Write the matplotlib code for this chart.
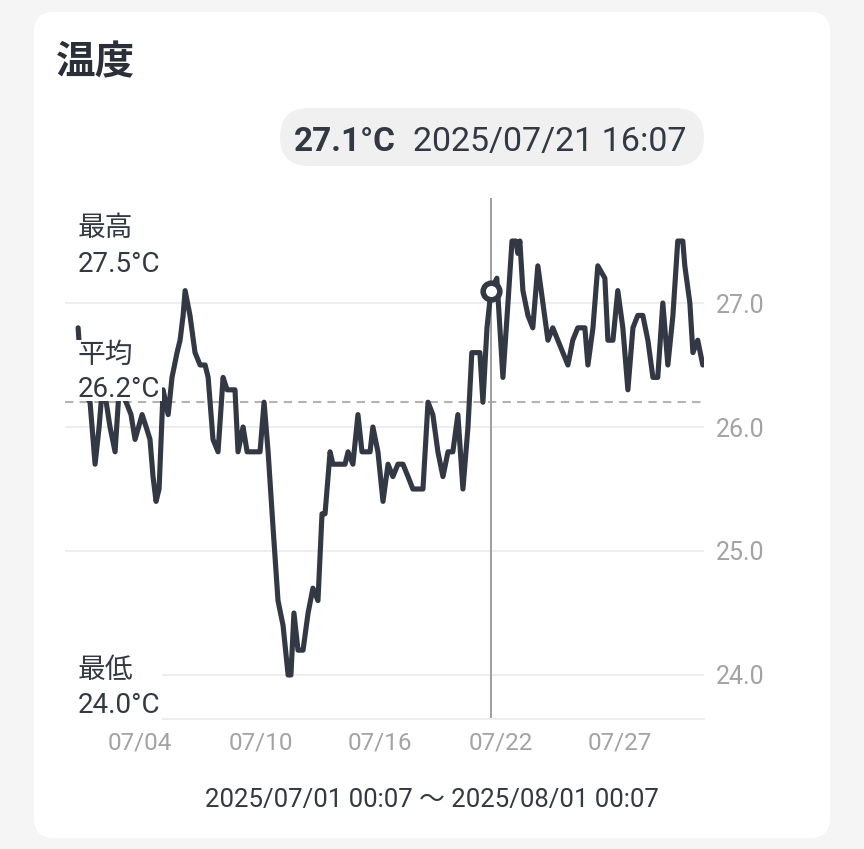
import matplotlib
matplotlib.use("Agg")
import matplotlib.pyplot as plt
from matplotlib.patches import FancyBboxPatch, Rectangle

plt.rcParams["font.family"] = ["Roboto", "Noto Sans CJK JP"]

# ── data (days since 2025/07/01 00:07, °C) ──────────────────
days = [
    0.00, 0.20, 0.59, 0.84, 1.04, 1.19, 1.39, 1.58, 1.83, 2.03,
    2.38, 2.62, 2.82, 3.17, 3.37, 3.56, 3.71, 3.86, 4.01, 4.21,
    4.46, 4.65, 4.90, 5.05, 5.20, 5.30, 5.54, 5.79, 6.04, 6.29,
    6.44, 6.68, 6.93, 7.18, 7.38, 7.77, 7.92, 8.17, 8.37, 9.01,
    9.21, 9.41, 9.65, 9.90, 10.15, 10.40, 10.54, 10.69, 10.89, 11.14,
    11.39, 11.63, 11.88, 12.08, 12.23, 12.48, 12.62, 13.22, 13.37, 13.61,
    13.86, 14.06, 14.46, 14.60, 14.85, 15.10, 15.35, 15.59, 15.84, 16.09,
    16.34, 16.58, 17.08, 17.33, 17.57, 17.82, 18.07, 18.32, 18.56, 18.81,
    19.06, 19.31, 19.50, 19.90, 20.05, 20.25, 20.45, 20.74, 21.04, 21.29,
    21.49, 21.68, 21.78, 21.88, 22.03, 22.28, 22.52, 22.77, 23.02, 23.27,
    23.51, 23.76, 24.01, 24.26, 24.50, 24.75, 25.10, 25.25, 25.50, 25.74,
    26.09, 26.24, 26.49, 26.73, 26.98, 27.23, 27.48, 27.72, 27.97, 28.22,
    28.47, 28.71, 28.96, 29.21, 29.46, 29.70, 29.95, 30.05, 30.30, 30.45,
    30.69, 30.94,
]
temps = [
    26.8, 26.3, 26.2, 25.7, 26.0, 26.3, 26.2, 26.0, 25.8, 26.3,
    26.2, 26.1, 25.9, 26.1, 26.0, 25.9, 25.6, 25.4, 25.5, 26.3,
    26.1, 26.4, 26.6, 26.7, 26.9, 27.1, 26.9, 26.6, 26.5, 26.5,
    26.4, 25.9, 25.8, 26.4, 26.3, 26.3, 25.8, 26.0, 25.8, 25.8,
    26.2, 25.8, 25.2, 24.6, 24.4, 24.0, 24.0, 24.5, 24.2, 24.2,
    24.5, 24.7, 24.6, 25.3, 25.3, 25.8, 25.7, 25.7, 25.8, 25.7,
    26.1, 25.8, 25.8, 26.0, 25.8, 25.4, 25.7, 25.6, 25.7, 25.7,
    25.6, 25.5, 25.5, 26.2, 26.1, 25.8, 25.6, 25.8, 25.8, 26.1,
    25.5, 26.0, 26.6, 26.6, 26.2, 26.8, 27.1, 27.2, 26.4, 27.0,
    27.5, 27.5, 27.4, 27.5, 27.1, 26.9, 26.8, 27.3, 27.0, 26.7,
    26.8, 26.7, 26.6, 26.5, 26.7, 26.8, 26.8, 26.5, 26.8, 27.3,
    27.2, 26.7, 26.7, 27.1, 26.8, 26.3, 26.8, 26.9, 26.9, 26.7,
    26.4, 26.4, 27.0, 26.5, 26.9, 27.5, 27.5, 27.3, 27.0, 26.6,
    26.7, 26.5,
]

y_ticks = [24.0, 25.0, 26.0, 27.0]
x_tick_days = [3.07, 9.06, 14.95, 20.94, 26.83]
x_tick_labels = ["07/04", "07/10", "07/16", "07/22", "07/27"]

avg_temp = 26.2
max_temp = 27.5
min_temp = 24.0
hover_day = 20.45
hover_temp = 27.1
hover_label = "2025/07/21 16:07"
range_label = "2025/07/01 00:07 〜 2025/08/01 00:07"

# ── colours ─────────────────────────────────────────────────
INK = "#333845"
GRID = "#eeeeee"
MUTED = "#a3a3a3"

W, H = 864, 849
fig = plt.figure(figsize=(W / 100, H / 100), dpi=100, facecolor="#f5f5f5")

# background layer in pixel coords
bg = fig.add_axes([0, 0, 1, 1], zorder=0)
bg.set_xlim(0, W)
bg.set_ylim(H, 0)
bg.axis("off")
bg.add_patch(FancyBboxPatch((34, 12), 796, 826,
                            boxstyle="round,pad=0,rounding_size=20",
                            fc="white", ec="none"))

# ── main chart ──────────────────────────────────────────────
ax = fig.add_axes([65 / W, 1 - 719 / H, (704 - 65) / W, (719 - 198) / H], zorder=1)
ax.set_facecolor("none")
ax.set_xlim(-0.65, 31.0)
ax.set_ylim(23.645, 27.847)

for v in y_ticks:
    ax.axhline(v, color=GRID, lw=1.5, zorder=1)
ax.axhline(avg_temp, color="#b3b3b3", lw=1.5, dashes=(4, 3), zorder=2)
ax.axvline(hover_day, color="#9e9e9e", lw=1.4, zorder=2)

ax.plot(days, temps, color=INK, lw=3.7, solid_joinstyle="round",
        solid_capstyle="round", zorder=3)
ax.plot([hover_day], [hover_temp], "o", ms=12, mfc="white", mec=INK,
        mew=4, zorder=4)

for side in ("left", "right", "top"):
    ax.spines[side].set_visible(False)
ax.spines["bottom"].set_color(GRID)
ax.spines["bottom"].set_linewidth(1.5)

ax.yaxis.tick_right()
ax.set_yticks(y_ticks)
ax.set_yticklabels([f"{v:.1f}" for v in y_ticks])
ax.set_xticks(x_tick_days)
ax.set_xticklabels(x_tick_labels)
ax.tick_params(axis="y", length=0, pad=8.5, labelsize=18, labelcolor=MUTED)
ax.tick_params(axis="x", length=0, pad=9, labelsize=17.5, labelcolor=MUTED)

# ── overlay layer (labels, pill) ────────────────────────────
ov = fig.add_axes([0, 0, 1, 1], zorder=2)
ov.set_xlim(0, W)
ov.set_ylim(H, 0)
ov.axis("off")
ov.patch.set_alpha(0)

ov.text(56, 63, "温度", fontsize=28.5, fontweight="bold", color="#2b2f3a",
        va="center", ha="left")

ov.add_patch(FancyBboxPatch((280, 108), 424, 58,
                            boxstyle="round,pad=0,rounding_size=29",
                            fc="#f0f0f0", ec="none"))
ov.text(294, 151, f"{hover_temp:.1f}°C", fontsize=24, fontweight="bold",
        color=INK, va="baseline", ha="left")
ov.text(413, 151, hover_label, fontsize=24.5, color=INK, va="baseline", ha="left")

# stat labels with white blocks that hide the line beneath
for top, bottom in ((212, 277), (340, 401), (655, 722)):
    ov.add_patch(Rectangle((62, top), 100, bottom - top, fc="white", ec="none"))

stats = [("最高", max_temp, 228, 272), ("平均", avg_temp, 355, 397),
         ("最低", min_temp, 671, 713)]
for name, val, y_name, y_val in stats:
    ov.text(78, y_name, name, fontsize=20, color=INK, va="center", ha="left")
    ov.text(78, y_val, f"{val:.1f}°C", fontsize=20, color=INK,
            va="baseline", ha="left")

ov.text(432, 807, range_label, fontsize=18.5, color=INK, va="baseline", ha="center")

fig.savefig("out.png", dpi=100, facecolor=fig.get_facecolor())
